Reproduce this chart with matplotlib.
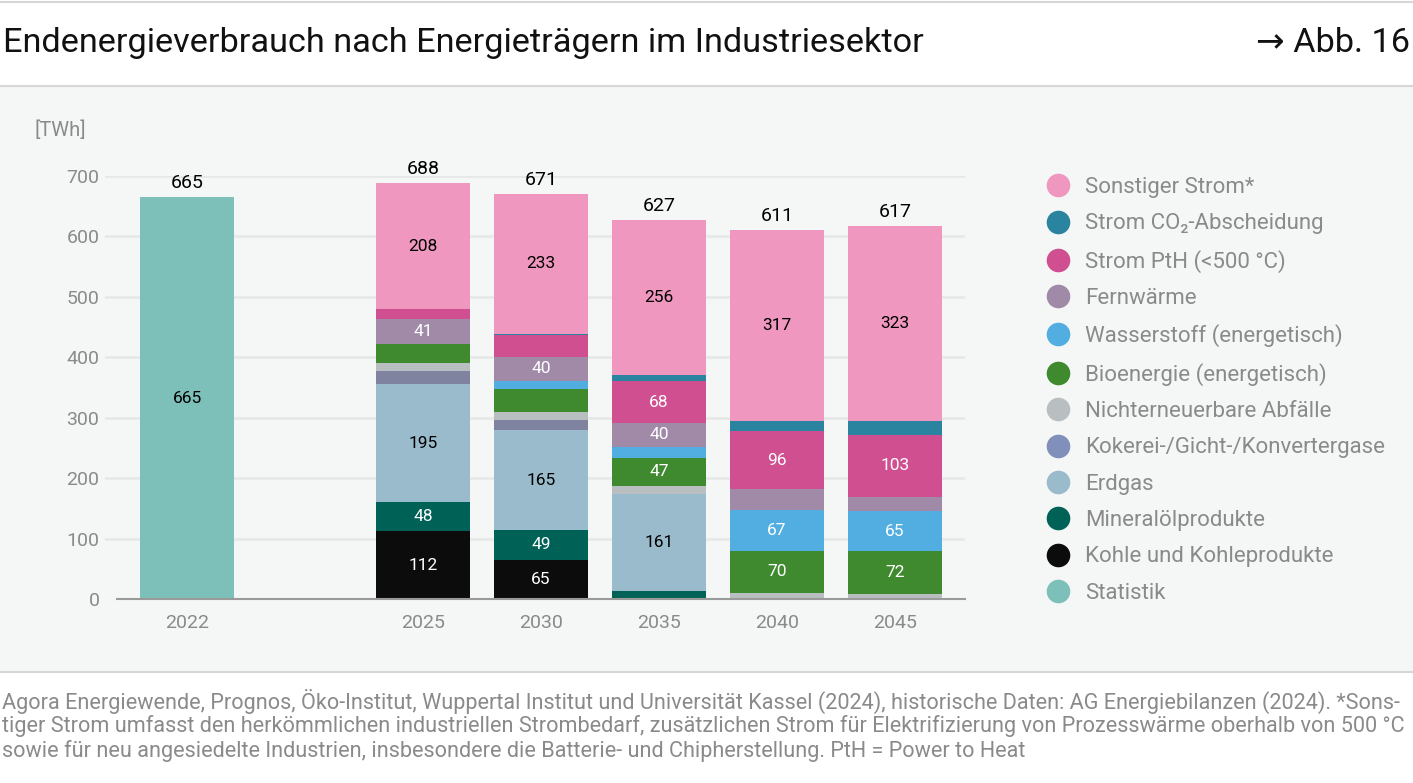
import numpy as np
import matplotlib
matplotlib.use("Agg")
import matplotlib.pyplot as plt
from matplotlib.lines import Line2D

plt.rcParams['font.family'] = ['Roboto', 'DejaVu Sans']

W, H = 1413, 783

years = ["2022", "2025", "2030", "2035", "2040", "2045"]
xpos = [0, 2, 3, 4, 5, 6]

# stacked from bottom to top
kohle = [0, 112, 65, 0, 0, 0]
mineraloel = [0, 48, 49, 13, 0, 0]
erdgas = [0, 195, 165, 161, 0, 0]
kokerei = [0, 23, 18, 0, 0, 0]
abfaelle = [0, 12, 12, 13, 10, 8]
bio = [0, 32, 39, 47, 70, 72]
wasserstoff = [0, 0, 13, 18, 67, 65]
fernwaerme = [0, 41, 40, 40, 35, 24]
pth = [0, 17, 36, 68, 96, 103]
co2 = [0, 0, 1, 11, 16, 22]
sonstiger = [0, 208, 233, 256, 317, 323]
statistik = [665, 0, 0, 0, 0, 0]
totals = [665, 688, 671, 627, 611, 617]

series = [
    ("Statistik", statistik, "#7cc0b9", "black"),
    ("Kohle und Kohleprodukte", kohle, "#0c0c0c", "white"),
    ("Mineralölprodukte", mineraloel, "#006257", "white"),
    ("Erdgas", erdgas, "#9abbcb", "black"),
    ("Kokerei-/Gicht-/Konvertergase", kokerei, "#80839f", "white"),
    ("Nichterneuerbare Abfälle", abfaelle, "#b9bfc1", "white"),
    ("Bioenergie (energetisch)", bio, "#3f8a2f", "white"),
    ("Wasserstoff (energetisch)", wasserstoff, "#52aee0", "white"),
    ("Fernwärme", fernwaerme, "#a08aa8", "white"),
    ("Strom PtH (<500 °C)", pth, "#d04f91", "white"),
    ("Strom CO\u2082-Abscheidung", co2, "#2b849f", "white"),
    ("Sonstiger Strom*", sonstiger, "#f097bf", "black"),
]
legend_colors = {"Kokerei-/Gicht-/Konvertergase": "#8190bb"}

fig = plt.figure(figsize=(W / 100, H / 100), dpi=100)
fig.patch.set_facecolor("white")


def fx(x):
    return x / W


def fy(y):
    return 1 - y / H


# background panel and separators
fig.patches.append(plt.Rectangle((0, fy(672)), 1, fy(86) - fy(672), transform=fig.transFigure,
                                 facecolor="#f5f7f6", edgecolor="none", zorder=-5))
for yy in [2, 86, 672]:
    fig.add_artist(Line2D([0, 1], [fy(yy), fy(yy)], color="#d6d8d8", lw=1.5, zorder=-4))

ax = fig.add_axes([fx(105), fy(599), fx(965 - 105), fy(176) - fy(599)])
ax.set_zorder(2)
ax.set_facecolor("none")
ax.set_xlim(-0.695, 6.593)
ax.set_ylim(0, 700)

for v in range(100, 800, 100):
    ax.axhline(v, color="#e6e8e7", lw=1.8, zorder=0)
ax.plot([-0.593, 6.593], [0, 0], color="#9a9a9a", lw=1.5, zorder=3, clip_on=False)

bottom = np.zeros(len(years))
for name, vals, col, tcol in series:
    vals = np.array(vals, dtype=float)
    ax.bar(xpos, vals, 0.8, bottom=bottom, color=col, zorder=2)
    for i, v in enumerate(vals):
        if v >= 40:
            ax.text(xpos[i], bottom[i] + v / 2, str(int(v)), ha="center", va="center",
                    color=tcol, fontsize=12.5, zorder=4)
    bottom += vals

for i, t in enumerate(totals):
    ax.text(xpos[i], t + 8, str(t), ha="center", va="bottom", fontsize=14, color="black")

for s in ax.spines.values():
    s.set_visible(False)
ax.set_xticks(xpos)
ax.set_xticklabels(years)
ax.set_yticks(range(0, 800, 100))
ax.tick_params(length=0, labelsize=14, labelcolor="#8a8a8a")
ax.tick_params(axis="y", pad=4)
ax.tick_params(axis="x", pad=11)

fig.text(fx(35), fy(130), "[TWh]", fontsize=14.5, color="#8a8a8a", va="center", ha="left")

# title
fig.text(fx(3), fy(43), "Endenergieverbrauch nach Energieträgern im Industriesektor",
         fontsize=24.7, va="center", ha="left", color="#111111")
fig.text(fx(1410), fy(43), "\u2192 Abb. 16", fontsize=24.7, va="center", ha="right", color="#111111")

# legend
handles = []
labels = []
for name, vals, col, tcol in reversed(series):
    handles.append(Line2D([], [], marker="o", ls="none", markersize=17,
                          markerfacecolor=legend_colors.get(name, col), markeredgecolor="none"))
    labels.append(name)
leg = fig.legend(handles, labels, loc="upper left", bbox_to_anchor=(fx(1045), fy(177)),
                 frameon=False, fontsize=16, labelspacing=0.69, handletextpad=0.6,
                 handlelength=1.2, borderaxespad=0, borderpad=0)
for t in leg.get_texts():
    t.set_color("#8a8a8a")

# footer
foot = [
    "Agora Energiewende, Prognos, Öko-Institut, Wuppertal Institut und Universität Kassel (2024), "
    "historische Daten: AG Energiebilanzen (2024). *Sons-",
    "tiger Strom umfasst den herkömmlichen industriellen Strombedarf, zusätzlichen Strom für "
    "Elektrifizierung von Prozesswärme oberhalb von 500 °C",
    "sowie für neu angesiedelte Industrien, insbesondere die Batterie- und Chipherstellung. "
    "PtH = Power to Heat",
]
for k, line in enumerate(foot):
    fig.text(fx(2), fy(701 + 25 * k), line, fontsize=15.6, color="#8a8a8a", va="center", ha="left")

fig.savefig("out.png", dpi=100, facecolor="white")
